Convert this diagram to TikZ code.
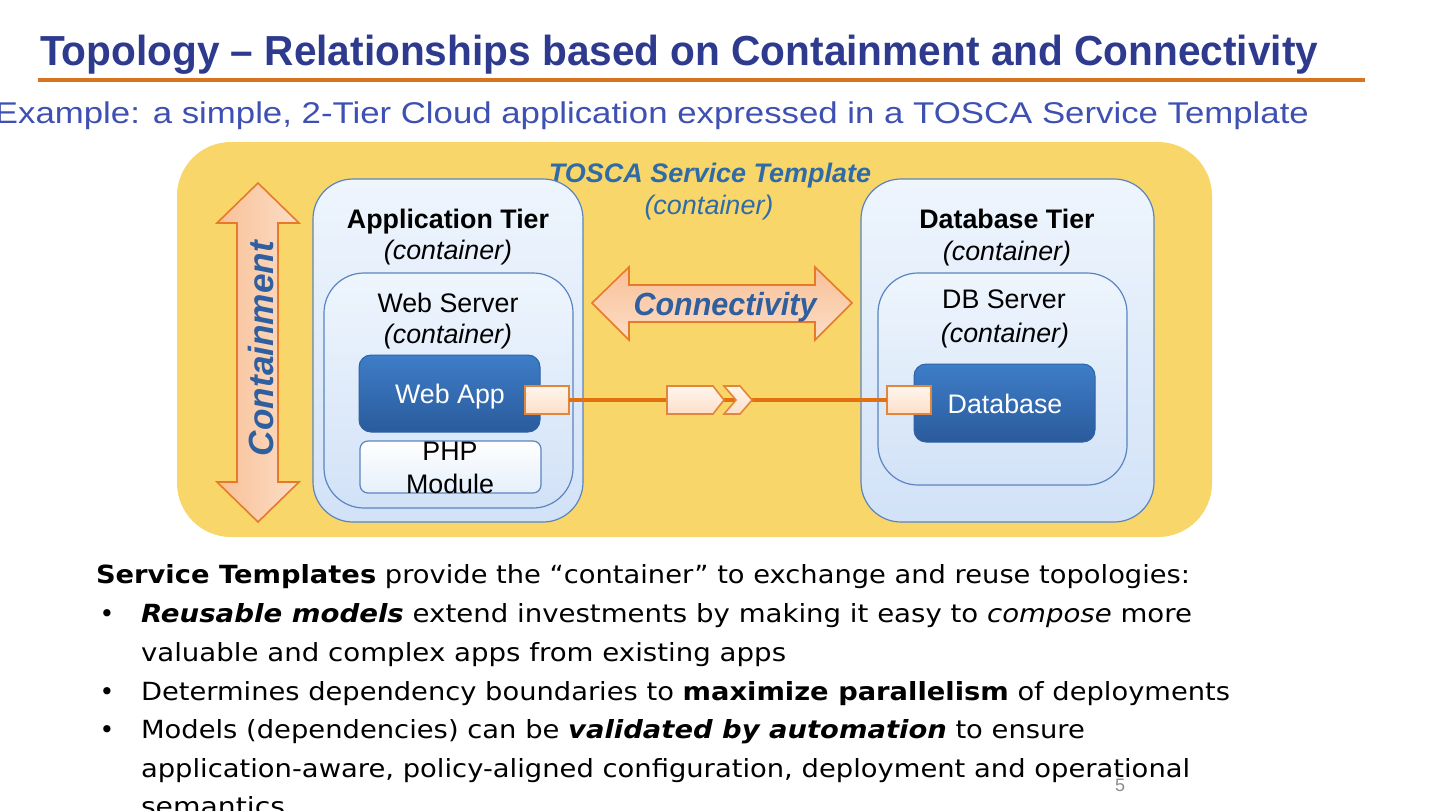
\documentclass[tikz,border=0pt]{standalone}
\usepackage{fontspec}
\usepackage{graphicx}
\setmainfont{Liberation Sans}
\newfontfamily\bodyfont{DejaVu Sans}
\usetikzlibrary{fit}
\definecolor{navy}{HTML}{2E3A8E}
\definecolor{titleline}{HTML}{D8731F}
\definecolor{subblue}{HTML}{3F50B3}
\definecolor{bgyellow}{HTML}{F8D669}
\definecolor{boxtop}{HTML}{EEF5FD}
\definecolor{boxbot}{HTML}{D2E2F7}
\definecolor{boxline}{HTML}{5A85BE}
\definecolor{apptop}{HTML}{3E7DC8}
\definecolor{appbot}{HTML}{2A5B9C}
\definecolor{appline}{HTML}{2F62A5}
\definecolor{arrline}{HTML}{E77A2A}
\definecolor{peachA}{HTML}{F8C097}
\definecolor{peachB}{HTML}{FCDDC6}
\definecolor{portA}{HTML}{FFF6EE}
\definecolor{portB}{HTML}{FCDFC9}
\definecolor{portline}{HTML}{E3863A}
\definecolor{conn}{HTML}{E2700F}
\definecolor{labelblue}{HTML}{2F6BA6}
\definecolor{arrowtext}{HTML}{2F5F9E}
\definecolor{pagegray}{HTML}{8C8C8C}
\newlength\px \setlength\px{0.5pt}
\newcommand\fw[2]{\resizebox{#1\px}{\height}{#2}}
\begin{document}
\begin{tikzpicture}[x=0.5pt,y=-0.5pt,
  every node/.style={inner sep=0pt, outer sep=0pt},
  lbox/.style={draw=boxline, line width=0.6pt, top color=boxtop, bottom color=boxbot, inner sep=0pt},
  dbox/.style={draw=appline, line width=0.5pt, top color=apptop, bottom color=appbot, inner sep=0pt, rounded corners=6pt},
  port/.style={draw=portline, line width=0.8pt, top color=portA, bottom color=portB, inner sep=0pt},
  fatarrow/.style={draw=arrline, line width=0.8pt, line join=miter},
  marker/.style={draw=portline, line width=0.8pt, top color=portA, bottom color=portB},
  connline/.style={draw=conn, line width=2pt},
  dlabel/.style={anchor=base, text=black, font=\fontsize{13.4}{16}\selectfont},
  dlabelb/.style={dlabel, font=\fontsize{13.4}{16}\selectfont\bfseries},
  dlabeli/.style={dlabel, font=\fontsize{13.4}{16}\selectfont\itshape},
  body/.style={anchor=base west, text=black, font=\bodyfont\fontsize{12.5}{15}\selectfont},
  bullet/.style={anchor=base, text=black, font=\bodyfont\fontsize{12.5}{15}\selectfont}
]
\useasboundingbox (0,0) rectangle (1440,810);
\fill[white] (0,0) rectangle (1440,810);

% title
\node[anchor=base west, text=navy, font=\fontsize{21}{25}\selectfont\bfseries] (title) at (40,65)
  {\fw{1278}{Topology – Relationships based on Containment and Connectivity}};
\draw[titleline, line width=2pt] (38,80) -- (1365,80);
\node[anchor=base east, text=subblue, font=\fontsize{15}{18}\selectfont] (subtitle) at (1309,123)
  {\fw{1314}{Example: a simple, 2-Tier Cloud application expressed in a TOSCA Service Template}};

% service template background
\node[fill=bgyellow, rounded corners=27pt, fit={(177,142) (1212,537)}] (tpl) {};
\node[anchor=base, text=labelblue, font=\fontsize{13.4}{16}\selectfont\bfseries\itshape] (tpltitle) at (710,182)
  {\fw{322}{TOSCA Service Template}};
\node[anchor=base, text=labelblue, font=\fontsize{13.4}{16}\selectfont\itshape] (tplsub) at (709,214)
  {\fw{129}{(container)}};

% containment arrow
\path[fatarrow, left color=peachA, right color=peachB]
  (258,183) -- (299,223) -- (278,223) -- (278,482) -- (299,482) -- (258,522)
  -- (217,482) -- (237,482) -- (237,223) -- (217,223) -- cycle;
\node[rotate=90, anchor=base west, text=arrowtext, font=\fontsize{17.5}{20}\selectfont\bfseries\itshape] (contain) at (273,456)
  {\fw{215}{Containment}};

% connectivity arrow
\path[fatarrow, top color=peachA, bottom color=peachB]
  (592,303) -- (629,267) -- (629,285) -- (815,285) -- (815,267) -- (852,303)
  -- (815,340) -- (815,322) -- (629,322) -- (629,340) -- cycle;
\node[anchor=base, text=arrowtext, font=\fontsize{16}{19}\selectfont\bfseries\itshape] (connect) at (725,315)
  {\fw{183}{Connectivity}};

% application tier
\node[lbox, rounded corners=20pt, fit={(313,179) (583,522)}] (apptier) {};
\node[dlabelb] (apptl) at (448,228) {Application Tier};
\node[dlabeli] (apptc) at (448,259) {(container)};
\node[lbox, rounded corners=20pt, fit={(324,273) (573,508)}] (websrv) {};
\node[dlabel] (websl) at (448,312) {Web Server};
\node[dlabeli] (wesc) at (448,343) {(container)};
\node[dbox, fit={(359,355) (540,432)}] (webapp) {};
\node[dlabel, text=white] (webappl) at (450,403) {Web App};
\node[lbox, rounded corners=4pt, top color=white, bottom color=boxtop!70!boxbot, fit={(360,441) (541,493)}] (php) {};
\node[dlabel] (phpl1) at (450,460) {PHP};
\node[dlabel] (phpl2) at (450,493) {Module};

% database tier
\node[lbox, rounded corners=20pt, fit={(861,179) (1154,522)}] (dbtier) {};
\node[dlabelb] (dbtl) at (1007,228) {Database Tier};
\node[dlabeli] (dbtc) at (1007,260) {(container)};
\node[lbox, rounded corners=20pt, fit={(878,273) (1127,485)}] (dbsrv) {};
\node[dlabel] (dbsl) at (1004,308) {DB Server};
\node[dlabeli] (dbsc) at (1005,342) {(container)};
\node[dbox, fit={(914,364) (1095,442)}] (db) {};
\node[dlabel, text=white] (dbl) at (1005,413) {Database};

% ports and connection
\node[port, fit={(525,386) (569,414)}] (cap) {};
\node[port, fit={(887,386) (931,414)}] (req) {};
\draw[connline] (cap.east) -- (req.west);
\path[marker] (667,386) -- (713,386) -- (724,400) -- (713,414) -- (667,414) -- cycle;
\path[marker] (724,386) -- (740,386) -- (752,400) -- (740,414) -- (724,414) -- (736,400) -- cycle;

% body text
\node[body] (l1) at (96,583) {\fw{1094}{\textbf{Service Templates} provide the “container” to exchange and reuse topologies:}};
\node[bullet] (b1) at (107,622) {•};
\node[body] (l2) at (141,622) {\fw{1051}{\textbf{\textit{Reusable models}} extend investments by making it easy to \textit{compose} more}};
\node[body] (l3) at (141,661) {\fw{645}{valuable and complex apps from existing apps}};
\node[bullet] (b2) at (107,700) {•};
\node[body] (l4) at (141,700) {\fw{1089}{Determines dependency boundaries to \textbf{maximize parallelism} of deployments}};
\node[bullet] (b3) at (107,738) {•};
\node[body] (l5) at (141,738) {\fw{944}{Models (dependencies) can be \textbf{\textit{validated by automation}} to ensure}};
\node[body] (l6) at (141,777) {\fw{1049}{application-aware, policy-aligned configuration, deployment and operational}};
\node[body] (l7) at (141,815) {\fw{144}{semantics}};
\node[anchor=base, text=pagegray, font=\fontsize{9}{11}\selectfont] (page) at (1120,791) {5};
\end{tikzpicture}
\end{document}
